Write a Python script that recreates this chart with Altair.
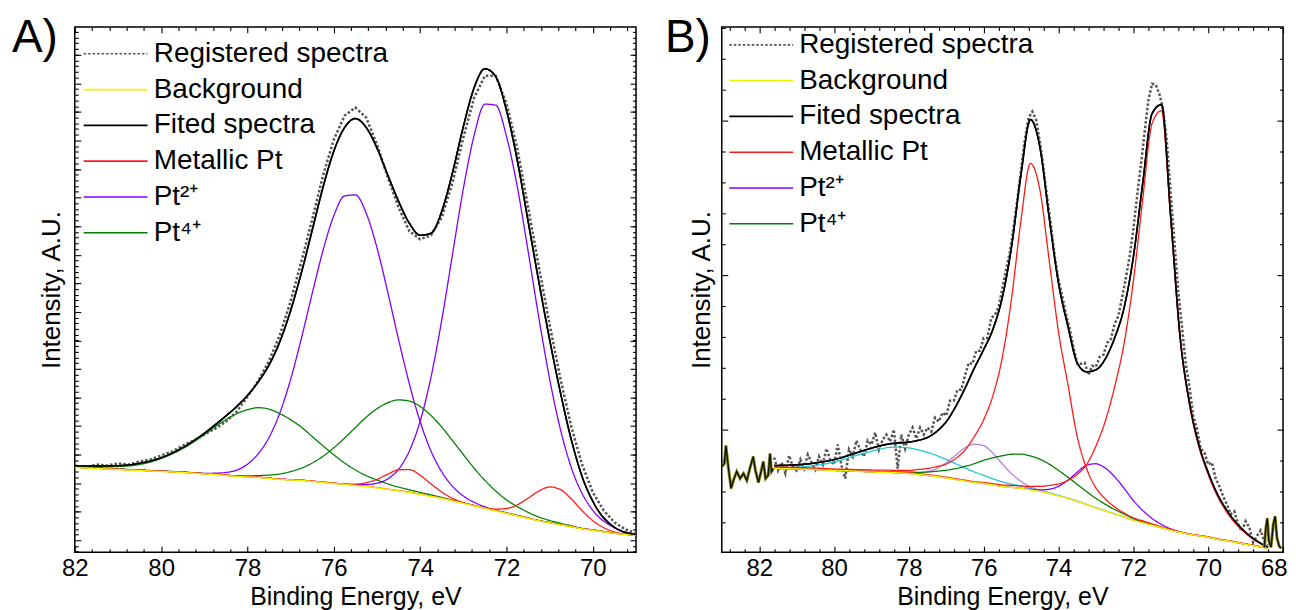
import altair as alt
import pandas as pd

FONT = "Liberation Sans"

# ---------------------------------------------------------------- legend
SERIES = ["Registered spectra", "Background", "Fited spectra", "Metallic Pt", "Pt²⁺", "Pt⁴⁺"]
COLORS = ["#555555", "#f2f200", "#000000", "#ff1a1a", "#8000ff", "#008000"]
DASHES = [[2.5, 2], [1, 0], [1, 0], [1, 0], [1, 0], [1, 0]]

# ---------------------------------------------------------------- panel A
E_A = [82.0, 81.5, 81.0, 80.5, 80.0, 79.5, 79.0, 78.75, 78.5, 78.25, 78.0, 77.75, 77.5, 77.25,
       77.0, 76.75, 76.5, 76.25, 76.0, 75.75, 75.5, 75.25, 75.0, 74.75, 74.5, 74.25, 74.0,
       73.75, 73.5, 73.25, 73.0, 72.75, 72.5, 72.25, 72.0, 71.75, 71.5, 71.25, 71.0, 70.75,
       70.5, 70.25, 70.0, 69.5, 69.0]
A_BACKGROUND = [85, 84, 83, 82, 81, 80, 78.5, 78, 77, 76, 75.5, 75, 74, 73, 72.5, 72, 71, 70, 69,
                68, 67, 66, 64.5, 63, 61.5, 60, 58, 56, 54, 51.5, 49, 46.5, 44, 41.5, 39, 36.5,
                34, 31.5, 29.5, 27.5, 25.5, 23.5, 22, 19, 17]
A_PT4_1 = [85.5, 85.5, 86, 88, 94, 104, 118, 126, 133, 139, 143, 145, 143.5, 139, 133, 125.4, 116,
           106.7, 97.7, 89.5, 82.5, 76.8, 72.5, 68.6, 65.3, 62.7, 60, 57.5, 55, 52.3, 49.7, 47,
           44.5, 42, 39.5, 37, 34.4, 31.8, 29.8, 27.8, 25.8, 23.7, 22.2, 19.1, 17.1]
A_PT4_2 = [85.5, 84.5, 83.5, 82.5, 81.5, 80.5, 79, 78.5, 77.4, 76.7, 76.5, 76.9, 77.4, 78.5, 81,
           84.4, 89.5, 96.3, 104.8, 114.6, 125.1, 135.5, 144, 150, 152.8, 151.7, 146.2, 137.2,
           125.6, 111.9, 97.9, 84.3, 72, 61.4, 52.5, 45.8, 40, 35.3, 31.9, 29, 26.5, 24, 22.4,
           19.3, 17.2]
A_METAL_1 = [85.3, 84.3, 83.3, 82.3, 81.3, 80.3, 78.8, 78.3, 77.3, 76.3, 75.8, 75.3, 74.3, 73.3,
             72.8, 72.3, 71.3, 70.3, 69.3, 68.3, 68.3, 69.8, 73.1, 78.3, 82.7, 82.9, 77.2, 68.6,
             60.4, 54, 49.8, 46.8, 44.3, 41.8, 39.3, 36.8, 34.3, 31.8, 29.8, 27.8, 25.8, 23.8,
             22.3, 19.2, 17.1]
A_METAL_2 = [85.3, 84.3, 83.3, 82.3, 81.3, 80.3, 78.8, 78.3, 77.3, 76.3, 75.8, 75.3, 74.3, 73.3,
             72.8, 72.3, 71.3, 70.3, 69.3, 68.3, 67.3, 66.3, 64.8, 63.3, 61.8, 60.3, 58.3, 56.3,
             54.3, 51.8, 49.3, 46.8, 44.3, 43.3, 43.9, 47.6, 54.2, 61.4, 65.5, 62.8, 53.6, 41.7,
             31.6, 20.4, 17.2]
A_PT2_1 = [85.3, 84.3, 83.3, 82.3, 81.3, 80.3, 79.1, 79.3, 80, 82.4, 88.3, 98.8, 115.2, 139.8,
           173.5, 214.8, 259.7, 302.9, 337.6, 357.4, 358.4, 340.1, 305.4, 260.8, 213.3, 168.8,
           130.9, 101.6, 80.6, 66.1, 56.4, 50.1, 45.6, 42.2, 39.3, 36.8, 34.3, 31.8, 29.8, 27.8,
           25.8, 23.8, 22.3, 19.2, 17.1]
A_PT2_2 = [85.3, 84.3, 83.3, 82.3, 81.3, 80.3, 78.8, 78.3, 77.3, 76.3, 75.8, 75.3, 74.3, 73.3,
           72.8, 72.3, 71.3, 70.3, 69.3, 68.3, 67.7, 67.9, 69.2, 73.6, 83.3, 101.7, 131.5, 175.5,
           233, 299.1, 364.8, 418.2, 449.5, 448.5, 417, 366.5, 302, 235, 173.5, 123, 85, 59, 42,
           24.5, 18]
A_FIT = [86.5, 86.5, 86.8, 89.3, 94.8, 105, 119.3, 127.8, 136.7, 146.2, 157.3, 171, 188, 211.3,
         242.6, 280.6, 323.2, 366.2, 402.4, 426.1, 435, 426.1, 405.4, 378.3, 352, 330, 318, 320,
         342, 381, 427, 466, 485, 477, 443, 393, 332, 271, 213, 160, 113, 76, 51, 25, 17.7]
E_A_REG = [82.0, 81.75, 81.5, 81.25, 81.0, 80.75, 80.5, 80.25, 80.0, 79.75, 79.5, 79.25, 79.0,
           78.75, 78.5, 78.25, 78.0, 77.75, 77.5, 77.25, 77.0, 76.75, 76.5, 76.25, 76.0, 75.75,
           75.5, 75.25, 75.0, 74.75, 74.5, 74.25, 74.0, 73.75, 73.5, 73.25, 73.0, 72.75, 72.5,
           72.25, 72.0, 71.75, 71.5, 71.25, 71.0, 70.75, 70.5, 70.25, 70.0, 69.75, 69.5, 69.25,
           69.0]
A_REG = [87, 85, 88, 87, 89, 88, 91, 93, 97, 101, 107, 112, 118, 124, 131, 141, 156, 172, 192,
         218, 252, 292, 334, 378, 414, 438, 446, 436, 409, 376, 346, 322, 314, 318, 336, 371,
         416, 456, 478, 478, 450, 405, 346, 286, 228, 174, 126, 88, 60, 42, 30, 23, 19]
A_X_MAJOR = [82, 80, 78, 76, 74, 72, 70]
A_Y_MAJOR = [12, 40.6, 69.3, 97.9, 126.6, 155.2, 183.9, 212.5, 241.2, 269.8, 298.5, 327.1,
             355.8, 384.4, 413.1, 441.7, 470.4, 499.0]

# ---------------------------------------------------------------- panel B
E_B = [81.6, 81.0, 80.5, 80.0, 79.5, 79.0, 78.5, 78.25, 78.0, 77.75, 77.5, 77.25, 77.0, 76.75,
       76.5, 76.25, 76.0, 75.75, 75.5, 75.25, 75.0, 74.75, 74.5, 74.25, 74.0, 73.75, 73.5,
       73.25, 73.0, 72.75, 72.5, 72.25, 72.0, 71.75, 71.5, 71.25, 71.0, 70.75, 70.5, 70.25,
       70.0, 69.75, 69.5, 69.0, 68.4]
B_BACKGROUND = [84, 83.5, 83, 82, 81.5, 80.5, 80, 79.5, 79, 78, 77, 76, 74.5, 73, 71.5, 70, 69,
                67.5, 66, 65, 64, 62.5, 61, 59, 56.5, 54, 51, 48, 44.5, 41.5, 38.5, 35.5, 32,
                29.5, 27, 24.5, 22, 20, 18, 16.5, 15, 13, 11.5, 8, 4]
B_CYAN = [84.5, 85.2, 87.1, 90.4, 96, 101.3, 105.2, 105.5, 104.8, 102.8, 100.1, 97, 93, 88.8,
          84.6, 80.5, 77.2, 73.7, 70.6, 68.3, 66.3, 64.1, 62.1, 59.7, 57, 54.3, 51.2, 48.1, 44.6,
          41.6, 38.6, 35.6, 32.1, 29.6, 27.1, 24.6, 22.1, 20.1, 18.1, 16.6, 15.1, 13.1, 11.6,
          8.1, 4.1]
B_LAVENDER = [84.1, 83.6, 83.1, 82.1, 81.6, 80.6, 80.1, 79.6, 79.5, 79.4, 80.7, 84.1, 89.8, 97.4,
              104.8, 108.5, 106.9, 99.2, 88.5, 78.6, 71, 65.6, 62.1, 59.4, 56.6, 54.1, 51.1,
              48.1, 44.6, 41.6, 38.6, 35.6, 32.1, 29.6, 27.1, 24.6, 22.1, 20.1, 18.1, 16.6, 15.1,
              13.1, 11.6, 8.1, 4.1]
B_PT4 = [84.1, 83.6, 83.1, 82.1, 81.6, 80.7, 80.4, 80.3, 80.3, 80.2, 80.5, 81.3, 82.3, 83.9,
         86.2, 88.8, 92.2, 94.8, 96.8, 98.3, 98.4, 96.6, 93.4, 88.4, 82.1, 75.3, 68, 60.9, 54,
         48.1, 42.9, 38.4, 33.8, 30.5, 27.6, 24.8, 22.2, 20.1, 18.1, 16.6, 15.1, 13.1, 11.6, 8.1,
         4.1]
B_PT2 = [84.1, 83.6, 83.1, 82.1, 81.6, 80.6, 80.1, 79.6, 79.1, 78.1, 77.1, 76.1, 74.6, 73.1,
         71.6, 70.1, 69.1, 67.6, 66.1, 65.1, 64.1, 63, 62.6, 63.2, 66.1, 72.3, 80.2, 87.3, 88.8,
         84.4, 75.7, 64.3, 51.9, 41.9, 33.9, 27.9, 23.5, 20.6, 18.2, 16.6, 15.1, 13.1, 11.6, 8.1,
         4.1]
B_METAL_1 = [85.5, 85, 84.5, 83.5, 83, 82.5, 82.3, 82, 82, 83, 84, 86, 88.5, 94, 102.5, 116, 133,
             157.5, 196, 256, 334, 390, 364, 293, 221, 168.5, 116, 84, 64.5, 53.5, 45.5,
             39.5, 34.5, 31.5, 28.5, 25.5, 23, 20.5, 18.5, 17, 15.5, 13.5, 12, 8.5, 4.5]
B_METAL_2 = [84.7, 84.2, 83.7, 82.7, 82.2, 81.2, 80.7, 80.2, 79.8, 78.8, 77.8, 76.8, 75.3, 73.8,
             72.3, 70.8, 70, 68.7, 67.5, 67, 66.5, 66, 66, 67, 68.5, 72, 78, 88, 106.5, 131.5,
             166, 209, 272, 354, 430, 443, 333, 215, 148, 106, 78, 56, 40, 19, 5]
B_FIT = [87, 87.7, 89.6, 92.9, 98.5, 104.4, 108.8, 109.7, 110.5, 112.3, 115.2, 121.3, 131, 146,
         164.5, 184.7, 203.4, 224, 256, 308, 380, 434, 407, 336, 270, 227, 190, 181,
         183, 194, 215, 245, 296, 370, 440, 449, 336, 216, 150, 108, 80, 58,
         42, 20, 5]
E_B_REG = [81.6, 81.5, 81.4, 81.3, 81.2, 81.1, 81.0, 80.9, 80.8, 80.7,
           80.6, 80.5, 80.4, 80.3, 80.2, 80.1, 80.0, 79.9, 79.8, 79.7,
           79.6, 79.5, 79.4, 79.3, 79.2, 79.1, 79.0, 78.9, 78.8, 78.7,
           78.6, 78.5, 78.4, 78.3, 78.2, 78.1, 78.0, 77.9, 77.8, 77.7,
           77.6, 77.5, 77.4, 77.3, 77.2, 77.1, 77.0, 76.9, 76.8, 76.7,
           76.6, 76.5, 76.4, 76.3, 76.2, 76.1, 76.0, 75.9, 75.8, 75.7,
           75.6, 75.5, 75.4, 75.3, 75.2, 75.1, 75.0, 74.9, 74.8, 74.7,
           74.6, 74.5, 74.4, 74.3, 74.2, 74.1, 74.0, 73.9, 73.8, 73.7,
           73.6, 73.5, 73.4, 73.3, 73.2, 73.1, 73.0, 72.9, 72.8, 72.7,
           72.6, 72.5, 72.4, 72.3, 72.2, 72.1, 72.0, 71.9, 71.8, 71.7,
           71.6, 71.5, 71.4, 71.3, 71.2, 71.1, 71.0, 70.9, 70.8, 70.7,
           70.6, 70.5, 70.4, 70.3, 70.2, 70.1, 70.0, 69.9, 69.8, 69.7,
           69.6, 69.5, 69.4, 69.3, 69.2, 69.1, 69.0, 68.9, 68.8, 68.7,
           68.6, 68.5, 68.4]
B_REG = [95, 82, 90, 79, 97, 86, 82, 93, 84, 98,
         90, 83, 96, 88, 104, 92, 88, 108, 87, 74,
         103, 96, 112, 103, 96, 112, 108, 120, 103, 113,
         118, 111, 123, 84, 118, 104, 118, 125, 114, 125,
         118, 125, 121, 135, 131, 140, 137, 152, 152, 163,
         163, 177, 190, 189, 202, 202, 215, 215, 235, 238,
         246, 265, 284, 301, 326, 354, 384, 414, 436, 442,
         434, 412, 385, 355, 327, 297, 273, 257, 239, 224,
         206, 189, 189, 190, 178, 187, 186, 196, 198, 210,
         214, 229, 237, 256, 275, 297, 324, 357, 388, 421,
         453, 470, 469, 459, 444, 410, 359, 310, 262, 226,
         189, 166, 137, 124, 104, 100, 88, 90, 74, 66,
         56, 48, 38, 41, 28, 21, 31, 25, 10, 16,
         22, 11, 7]
E_B_EDGE_L = [83.0, 82.93, 82.89, 82.82, 82.75, 82.69, 82.6, 82.51, 82.42, 82.33, 82.25, 82.16,
              82.1, 82.02, 81.95, 81.89, 81.83, 81.76, 81.71, 81.67, 81.62]
B_EDGE_L = [86, 89, 107, 84, 64, 72, 81, 74, 79, 72, 84, 96, 82, 70, 81, 91, 74, 77, 99, 81, 84]
E_B_EDGE_R = [68.5, 68.46, 68.42, 68.38, 68.32, 68.26, 68.21, 68.16, 68.1, 68.05]
B_EDGE_R = [5, 24, 34, 12, 5, 28, 36, 14, 6, 4]
B_X_MAJOR = [82, 80, 78, 76, 74, 72, 70, 68]
B_Y_MAJOR = [123, 278, 433]

W, H = 563, 527


def frame(E, vals, series, part):
    return pd.DataFrame({"E": E, "I": vals, "series": series, "part": part})


def minor_ticks(lo, hi, step, majors):
    out, k = [], 0
    while lo + k * step <= hi + 1e-9:
        v = round(lo + k * step, 3)
        if all(abs(v - m) > 1e-3 for m in majors):
            out.append(v)
        k += 1
    return out


def make_axes(xmaj, xmin, ymaj, ymin, ytitle_x, flush):
    common = dict(domain=False, grid=False, ticks=True, tickColor="black", tickWidth=1.1,
                  minExtent=0)
    flush_kw = dict(labelFlush=True, labelFlushOffset=4) if flush else dict(labelFlush=False)
    xb = alt.Axis(orient="bottom", values=xmaj, tickSize=6, offset=-6, labels=True, format="d",
                  labelFont=FONT, labelFontSize=24, labelColor="black", labelPadding=4,
                  labelOverlap=False, title="Binding Energy, eV",
                  titleFont=FONT, titleFontSize=25, titleFontWeight="normal",
                  titleColor="black", titleBaseline="middle", titleY=50, **flush_kw, **common)
    xbm = alt.Axis(orient="bottom", values=xmin, tickSize=3.5, offset=-3.5, labels=False,
                   title=None, **common)
    xt = alt.Axis(orient="top", values=xmaj, tickSize=6, offset=-6, labels=False, title=None,
                  **common)
    xtm = alt.Axis(orient="top", values=xmin, tickSize=3.5, offset=-3.5, labels=False,
                   title=None, **common)
    yl = alt.Axis(orient="left", values=ymaj, tickSize=6, offset=-6, labels=False,
                  title="Intensity, A.U.", titleFont=FONT, titleFontSize=26,
                  titleFontWeight="normal", titleColor="black", titleAngle=270,
                  titleBaseline="middle", titleAlign="center", titleX=ytitle_x, titleY=H / 2,
                  **common)
    ylm = alt.Axis(orient="left", values=ymin, tickSize=3.5, offset=-3.5, labels=False,
                   title=None, **common)
    yr = alt.Axis(orient="right", values=ymaj, tickSize=6, offset=-6, labels=False, title=None,
                  **common)
    yrm = alt.Axis(orient="right", values=ymin, tickSize=3.5, offset=-3.5, labels=False,
                   title=None, **common)
    return [(xb, yl), (xbm, ylm), (xt, yr), (xtm, yrm)]


def make_legend(offset, sym_off, lab_off):
    return alt.Legend(title=None, orient="top-left", offset=offset, padding=0,
                      symbolType="M-5,0H5", symbolSize=164, symbolStrokeWidth=1.6,
                      symbolOffset=sym_off, labelOffset=lab_off, labelFontSize=28,
                      labelFont=FONT, labelColor="black", labelLimit=600, rowPadding=7.9)


def panel(xdom, axes, lines, legend, letter, letter_x):
    xs = alt.Scale(domain=xdom, reverse=True, nice=False, zero=False)
    ys = alt.Scale(domain=[0, H], nice=False, zero=False)
    cs = alt.Scale(domain=SERIES, range=COLORS)
    ds = alt.Scale(domain=SERIES, range=DASHES)
    layers = []
    for i, (df, width, interp, fixed) in enumerate(lines):
        xa, ya = axes[i] if i < len(axes) else (None, None)
        enc = dict(x=alt.X("E:Q", scale=xs, axis=xa),
                   y=alt.Y("I:Q", scale=ys, axis=ya),
                   detail="part:N")
        if fixed is None:
            enc["color"] = alt.Color("series:N", scale=cs, legend=legend)
            enc["strokeDash"] = alt.StrokeDash("series:N", scale=ds, legend=legend)
            mk = alt.Chart(df).mark_line(strokeWidth=width, interpolate=interp, clip=True)
        else:
            mk = alt.Chart(df).mark_line(strokeWidth=width, interpolate=interp, clip=True,
                                         color=fixed)
        layers.append(mk.encode(**enc))
    txt = alt.Chart(pd.DataFrame({"t": [letter]})).mark_text(
        font=FONT, fontSize=46, align="left", baseline="top", color="black"
    ).encode(text="t:N", x=alt.value(letter_x), y=alt.value(-11))
    layers.append(txt)
    return alt.layer(*layers).resolve_axis(x="independent", y="independent").properties(
        width=W, height=H)


# ------------------------------------------------------------ panel A layers
a_reg = frame(E_A_REG, A_REG, SERIES[0], "reg")
a_bg = frame(E_A, A_BACKGROUND, SERIES[1], "bg")
a_fit = frame(E_A, A_FIT, SERIES[2], "fit")
a_metal = pd.concat([frame(E_A, A_METAL_1, SERIES[3], "m1"), frame(E_A, A_METAL_2, SERIES[3], "m2")])
a_pt2 = pd.concat([frame(E_A, A_PT2_1, SERIES[4], "p1"), frame(E_A, A_PT2_2, SERIES[4], "p2")])
a_pt4 = pd.concat([frame(E_A, A_PT4_1, SERIES[5], "g1"), frame(E_A, A_PT4_2, SERIES[5], "g2")])

axes_a = make_axes(A_X_MAJOR, minor_ticks(69.2, 82, 0.4, A_X_MAJOR), A_Y_MAJOR,
                   minor_ticks(0.54, 524, 5.73, A_Y_MAJOR), -29, False)
lines_a = [
    (a_fit, 1.6, "monotone", None),
    (a_reg, 2.5, "linear", None),
    (a_pt2, 1.3, "monotone", None),
    (a_pt4, 1.3, "monotone", None),
    (a_metal, 1.3, "monotone", None),
    (a_bg, 1.5, "monotone", None),
    (a_fit, 1.6, "monotone", None),
]
panel_a = panel([69, 82], axes_a, lines_a, make_legend(12.8, 13.9, 24.3), "A)", -63)

# ------------------------------------------------------------ panel B layers
b_reg = frame(E_B_REG, B_REG, SERIES[0], "reg")
b_bg = frame(E_B, B_BACKGROUND, SERIES[1], "bg")
b_fit = frame(E_B, B_FIT, SERIES[2], "fit")
b_metal = pd.concat([frame(E_B, B_METAL_1, SERIES[3], "m1"), frame(E_B, B_METAL_2, SERIES[3], "m2")])
b_pt2 = frame(E_B, B_PT2, SERIES[4], "p1")
b_pt4 = frame(E_B, B_PT4, SERIES[5], "g1")
b_cyan = frame(E_B, B_CYAN, "extra", "c")
b_lav = frame(E_B, B_LAVENDER, "extra", "l")
b_edges = pd.concat([frame(E_B_EDGE_L, B_EDGE_L, "edge", "L"), frame(E_B_EDGE_R, B_EDGE_R, "edge", "R")])

axes_b = make_axes(B_X_MAJOR, minor_ticks(68.4, 83, 0.4, B_X_MAJOR), B_Y_MAJOR,
                   minor_ticks(30, 527, 31, B_Y_MAJOR), -26, True)
lines_b = [
    (b_fit, 1.6, "monotone", None),
    (b_reg, 2.5, "linear", None),
    (b_cyan, 1.3, "monotone", "#1ec8d2"),
    (b_lav, 1.3, "monotone", "#b07fe0"),
    (b_pt2, 1.3, "monotone", None),
    (b_pt4, 1.3, "monotone", None),
    (b_metal, 1.3, "monotone", None),
    (b_bg, 1.5, "monotone", None),
    (b_fit, 1.6, "monotone", None),
    (b_edges, 3, "linear", "#8a8a10"),
    (b_edges, 1.4, "linear", "#111100"),
]
panel_b = panel([68, 83], axes_b, lines_b, make_legend(4.4, 21.6, 24), "B)", -57)

chart = alt.hconcat(panel_a, panel_b, spacing=26).resolve_scale(
    x="independent", y="independent", color="independent", strokeDash="independent"
).properties(
    padding={"left": 3, "top": 5, "right": 0, "bottom": 5}
).configure_view(stroke="black", strokeWidth=1.5)

chart.save("out.html", embed_options={"renderer": "svg", "actions": False})
